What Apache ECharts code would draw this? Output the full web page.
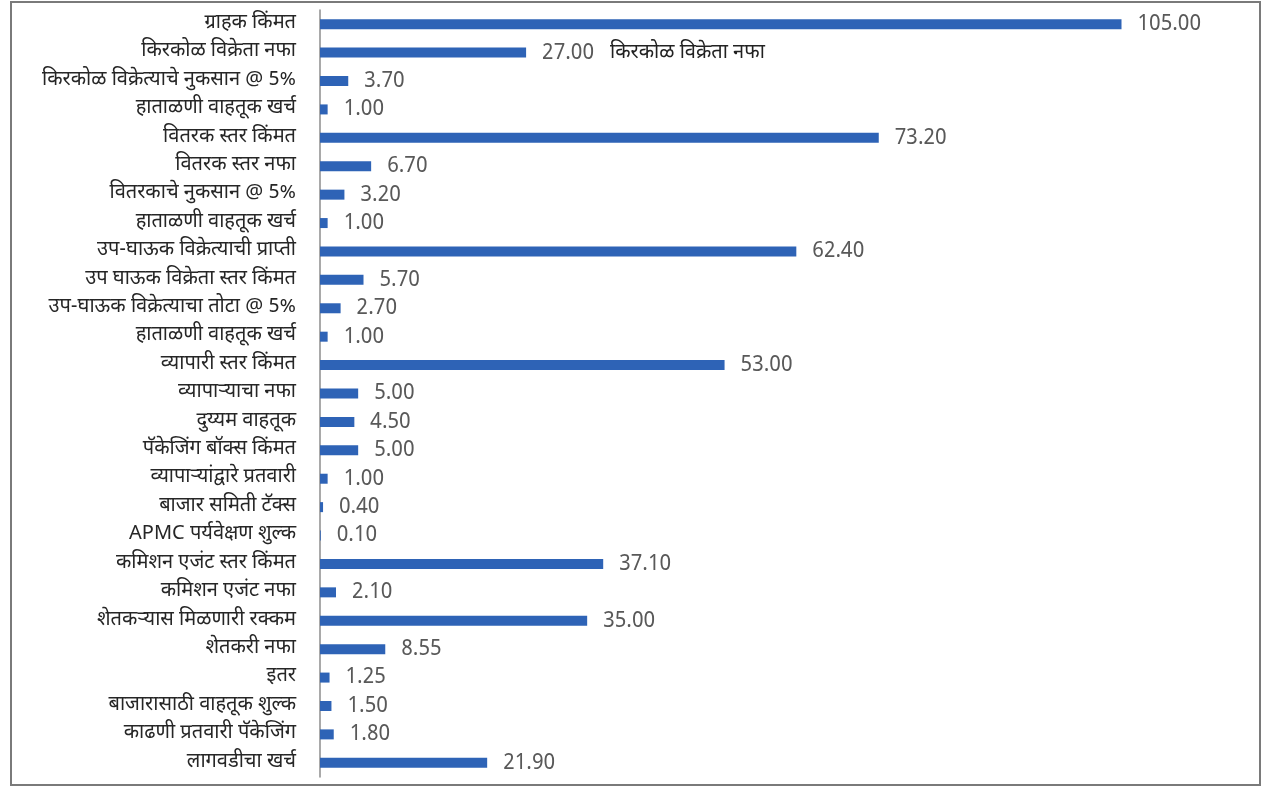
<!DOCTYPE html>
<html>
<head>
<meta charset="utf-8">
<script src="https://cdn.jsdelivr.net/npm/echarts@6/dist/echarts.min.js"></script>
<style>
  html, body { margin: 0; padding: 0; background: #fff; }
  #chart { width: 1267px; height: 787px; }
</style>
</head>
<body>
<div id="chart"></div>
<script>
// Price build-up, top (consumer price) to bottom (cultivation cost)
const categories = [
  'ग्राहक किंमत',
  'किरकोळ विक्रेता नफा',
  'किरकोळ विक्रेत्याचे नुकसान @ 5%',
  'हाताळणी वाहतूक खर्च',
  'वितरक स्तर किंमत',
  'वितरक स्तर नफा',
  'वितरकाचे नुकसान @ 5%',
  'हाताळणी वाहतूक खर्च',
  'उप-घाऊक विक्रेत्याची प्राप्ती',
  'उप घाऊक विक्रेता स्तर किंमत',
  'उप-घाऊक विक्रेत्याचा तोटा @ 5%',
  'हाताळणी वाहतूक खर्च',
  'व्यापारी स्तर किंमत',
  'व्यापाऱ्याचा नफा',
  'दुय्यम वाहतूक',
  'पॅकेजिंग बॉक्स किंमत',
  'व्यापाऱ्यांद्वारे प्रतवारी',
  'बाजार समिती टॅक्स',
  'APMC पर्यवेक्षण शुल्क',
  'कमिशन एजंट स्तर किंमत',
  'कमिशन एजंट नफा',
  'शेतकऱ्यास मिळणारी रक्कम',
  'शेतकरी नफा',
  'इतर',
  'बाजारासाठी वाहतूक शुल्क',
  'काढणी प्रतवारी पॅकेजिंग',
  'लागवडीचा खर्च'
];

const values = [
  105.00, 27.00, 3.70, 1.00,
  73.20, 6.70, 3.20, 1.00,
  62.40, 5.70, 2.70, 1.00,
  53.00, 5.00, 4.50, 5.00, 1.00, 0.40, 0.10,
  37.10, 2.10,
  35.00, 8.55, 1.25, 1.50, 1.80, 21.90
];

// Bar that also carries its category name beside the value
const namedIndex = 1;

const fontFamily = "'Noto Sans Devanagari', 'Lohit Devanagari', 'Noto Sans', 'DejaVu Sans', sans-serif";

const chart = echarts.init(document.getElementById('chart'), null, { renderer: 'canvas' });

const seriesData = values.map((v, i) => {
  if (i === namedIndex) {
    return {
      value: v,
      label: {
        formatter: p => '{v|' + p.value.toFixed(2) + '}{n|' + categories[p.dataIndex] + '}',
        rich: {
          v: { fontSize: 21, color: '#595959', fontFamily: fontFamily, padding: [0, 16, 0, 0] },
          n: { fontSize: 20, color: '#222', fontFamily: fontFamily }
        }
      }
    };
  }
  return v;
});

chart.setOption({
  backgroundColor: '#ffffff',
  animation: false,
  graphic: [{
    type: 'rect',
    shape: { x: 11, y: 2, width: 1249, height: 783 },
    style: { fill: 'none', stroke: '#7a7a7a', lineWidth: 2 },
    silent: true,
    z: 10
  }],
  grid: { left: 320, right: 31, top: 10, bottom: 10, containLabel: false },
  xAxis: {
    type: 'value',
    min: 0,
    max: 120,
    show: false
  },
  yAxis: {
    type: 'category',
    inverse: true,
    data: categories,
    axisLine: { show: true, lineStyle: { color: '#8c8c8c', width: 1.5 } },
    axisTick: { show: false },
    axisLabel: {
      margin: 24,
      fontSize: 20,
      color: '#262626',
      fontFamily: fontFamily,
      interval: 0
    }
  },
  series: [{
    type: 'bar',
    data: seriesData,
    barWidth: 10,
    itemStyle: { color: '#2e63b6' },
    label: {
      show: true,
      position: 'right',
      distance: 16,
      offset: [0, 2],
      fontSize: 21,
      color: '#595959',
      fontFamily: fontFamily,
      formatter: p => Number(p.value).toFixed(2)
    }
  }]
});
</script>
</body>
</html>
